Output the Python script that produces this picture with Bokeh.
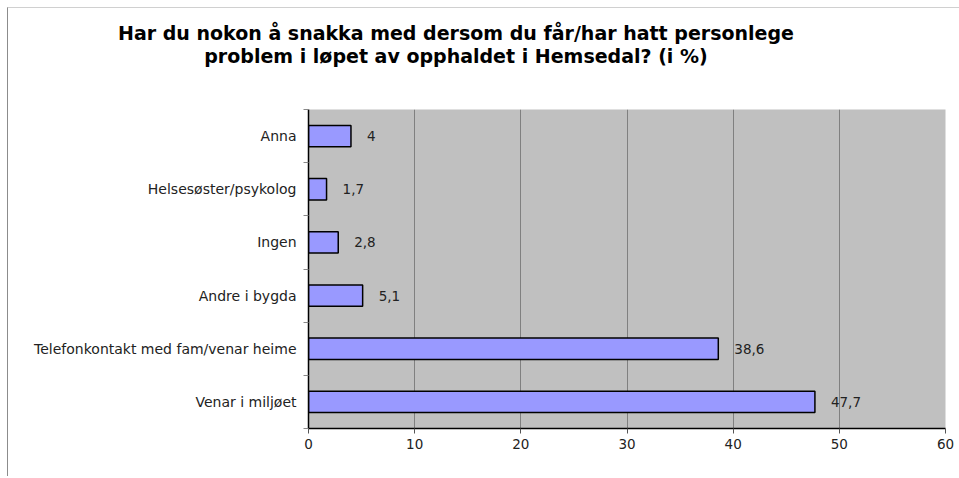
from bokeh.plotting import figure
from bokeh.layouts import column
from bokeh.models import Range1d, FixedTicker, ColumnDataSource, Div
from bokeh.core.properties import value
from bokeh.embed import file_html
from bokeh.resources import INLINE

# ---- data ----
categories = ["Venar i miljøet", "Telefonkontakt med fam/venar heime", "Andre i bygda",
              "Ingen", "Helsesøster/psykolog", "Anna"]
values = [47.7, 38.6, 5.1, 2.8, 1.7, 4]
value_labels = ["47,7", "38,6", "5,1", "2,8", "1,7", "4"]
x_ticks = [0, 10, 20, 30, 40, 50, 60]
title_lines = ["Har du nokon å snakka med dersom du får/har hatt personlege",
               "problem i løpet av opphaldet i Hemsedal? (i %)"]

ypos = [i + 0.5 for i in range(len(categories))]
source = ColumnDataSource(dict(y=ypos, v=values, lab=value_labels))

FONT = "DejaVu Sans"

title_div = Div(
    text=('<div style="width:886px;text-align:center;font-family:\'DejaVu Sans\';'
          'font-weight:bold;font-size:19px;line-height:23px;padding-top:9px;color:black">'
          + "<br>".join(title_lines) + "</div>"),
    width=950, height=91)

p = figure(frame_width=637, frame_height=319, output_backend="svg", toolbar_location=None,
           title=None,
           x_range=Range1d(0, 60), y_range=Range1d(0, len(categories)),
           min_border_left=300, min_border_right=13, min_border_top=0, min_border_bottom=48)

p.background_fill_color = "#C0C0C0"
p.border_fill_color = "white"
p.outline_line_color = None

p.hbar(y="y", right="v", left=0, height=0.4, source=source,
       fill_color="#9999FF", line_color="black", line_width=1.5)
p.text(x="v", y="y", text="lab", source=source, x_offset=16,
       text_align="left", text_baseline="middle",
       text_font=value(FONT), text_font_size="13.5px", text_color="#222222")

# x axis
p.xaxis.ticker = FixedTicker(ticks=x_ticks)
p.xaxis.axis_line_color = "black"
p.xaxis.axis_line_width = 1.5
p.xaxis.major_tick_out = 5
p.xaxis.major_tick_in = 0
p.xaxis.minor_tick_line_color = None
p.xaxis.major_tick_line_color = "#555555"
p.xaxis.major_label_text_font = FONT
p.xaxis.major_label_text_font_size = "13.5px"
p.xaxis.major_label_text_color = "#222222"
p.xaxis.major_label_standoff = 5

# y axis
p.yaxis.ticker = FixedTicker(ticks=ypos, minor_ticks=list(range(len(categories) + 1)))
p.yaxis.major_label_overrides = {y: c for y, c in zip(ypos, categories)}
p.yaxis.axis_line_color = "black"
p.yaxis.axis_line_width = 1.5
p.yaxis.major_tick_out = 0
p.yaxis.major_tick_in = 0
p.yaxis.minor_tick_out = 5
p.yaxis.minor_tick_in = 0
p.yaxis.minor_tick_line_color = "#888888"
p.yaxis.major_label_text_font = FONT
p.yaxis.major_label_text_font_size = "14px"
p.yaxis.major_label_text_color = "#222222"
p.yaxis.major_label_standoff = 7

# grid
p.xgrid.ticker = FixedTicker(ticks=x_ticks)
p.xgrid.grid_line_color = "#808080"
p.xgrid.grid_line_width = 1
p.ygrid.grid_line_color = None

layout = column(title_div, p, spacing=0)
layout.styles = {"margin-left": "7px", "margin-top": "7px",
                 "border-left": "1px solid #8c8c8c", "border-top": "1px solid #d0d0d0"}

open("out.html", "w").write(file_html(layout, INLINE))
